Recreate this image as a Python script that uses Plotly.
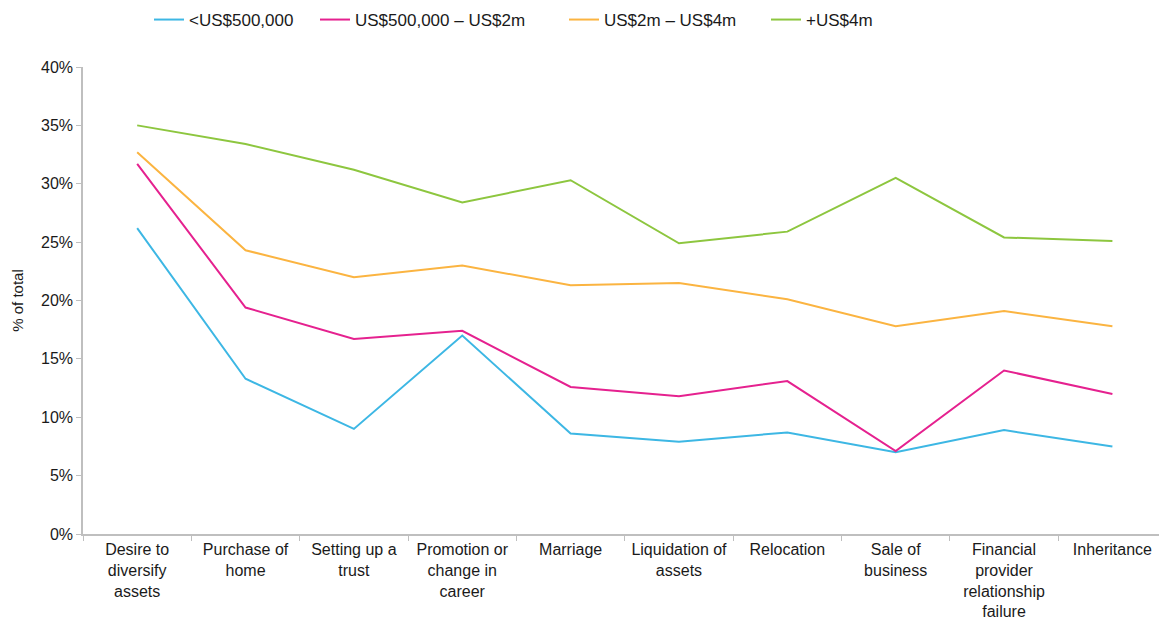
import plotly.graph_objects as go

categories = [
    "Desire to<br>diversify<br>assets",
    "Purchase of<br>home",
    "Setting up a<br>trust",
    "Promotion or<br>change in<br>career",
    "Marriage",
    "Liquidation of<br>assets",
    "Relocation",
    "Sale of<br>business",
    "Financial<br>provider<br>relationship<br>failure",
    "Inheritance",
]

series_names = ["<US$500,000", "US$500,000 – US$2m", "US$2m – US$4m", "+US$4m"]
under_500k = [26.2, 13.3, 9.0, 17.0, 8.6, 7.9, 8.7, 7.0, 8.9, 7.5]
from_500k_to_2m = [31.7, 19.4, 16.7, 17.4, 12.6, 11.8, 13.1, 7.1, 14.0, 12.0]
from_2m_to_4m = [32.7, 24.3, 22.0, 23.0, 21.3, 21.5, 20.1, 17.8, 19.1, 17.8]
over_4m = [35.0, 33.4, 31.2, 28.4, 30.3, 24.9, 25.9, 30.5, 25.4, 25.1]

y_ticks = [0, 5, 10, 15, 20, 25, 30, 35, 40]

colors = ["#3DB7E4", "#E5218F", "#FBB441", "#8DC63F"]
series_values = [under_500k, from_500k_to_2m, from_2m_to_4m, over_4m]
legend_ids = ["legend", "legend2", "legend3", "legend4"]
legend_x_px = [149, 315, 564, 766]

font_family = "Liberation Sans, Arial, sans-serif"
text_color = "#1a1a1a"

fig = go.Figure()
for name, vals, col, lid in zip(series_names, series_values, colors, legend_ids):
    fig.add_trace(go.Scatter(
        x=categories, y=vals, mode="lines", name=name,
        line=dict(color=col, width=2), legend=lid,
    ))

W, H = 1159, 624
layout_legends = {}
for lid, px in zip(legend_ids, legend_x_px):
    layout_legends[lid] = dict(
        xref="container", yref="container",
        x=px / W, y=1 - 2 / H, xanchor="left", yanchor="top",
        orientation="h", bgcolor="rgba(0,0,0,0)",
        font=dict(family=font_family, size=17, color=text_color),
        itemclick=False, itemdoubleclick=False,
    )

fig.update_layout(
    width=W, height=H,
    margin=dict(l=83, r=0, t=67, b=90),
    paper_bgcolor="white", plot_bgcolor="white",
    font=dict(family=font_family, size=16, color=text_color),
    showlegend=True,
    **layout_legends,
)

fig.update_xaxes(
    type="category",
    range=[-0.5, 9.43],
    showline=True, linecolor="#BFBFBF", linewidth=1.5,
    ticks="outside", tickson="boundaries", ticklen=5, tickcolor="#BFBFBF",
    showgrid=False, zeroline=False,
    tickfont=dict(family=font_family, size=16, color=text_color),
)
fig.update_yaxes(
    range=[0, 40],
    tickvals=y_ticks,
    ticktext=[f"{v}%" for v in y_ticks],
    showline=True, linecolor="#BFBFBF", linewidth=1.5,
    ticks="outside", ticklen=5, tickcolor="#BFBFBF",
    showgrid=False, zeroline=False,
    tickfont=dict(family=font_family, size=16, color=text_color),
    title=dict(text="% of total", font=dict(family=font_family, size=15, color=text_color), standoff=14),
)

fig.write_html(
    "out.html",
    config={"displayModeBar": False},
    post_script="document.body.style.margin='0px';document.body.style.overflow='hidden';",
)
